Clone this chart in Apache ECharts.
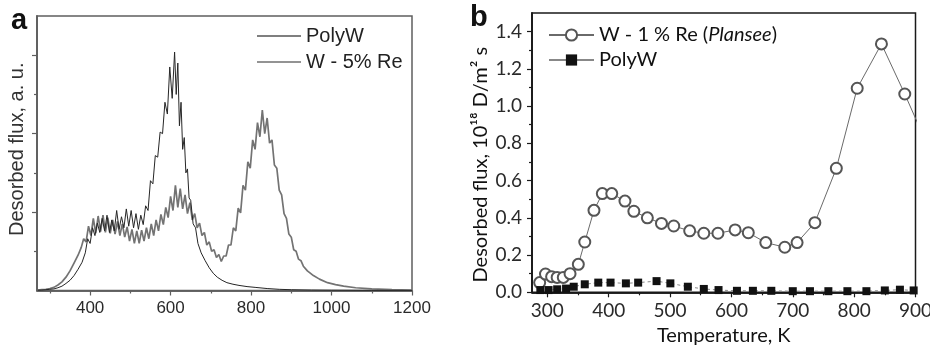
<!DOCTYPE html>
<html>
<head>
<meta charset="utf-8">
<script src="https://cdn.jsdelivr.net/npm/echarts@6/dist/echarts.min.js"></script>
<style>
html,body{margin:0;padding:0;background:#fff;}
#chart{width:930px;height:345px;}
</style>
</head>
<body>
<div id="chart"></div>
<script>
// ---------- Panel a: TDS spectra (a.u.) ----------
var polyWa = [
 [270,0.003],[280,0.005],[290,0.01],[300,0.015],[310,0.02],[320,0.035],[330,0.055],[340,0.09],[350,0.13],[360,0.19],[370,0.27],[380,0.36],[388,0.48],
 [394,0.66],[400,0.60],[406,0.80],[412,0.70],[418,0.86],[424,0.74],[430,0.92],[436,0.76],[442,0.96],[448,0.74],[454,0.90],[460,0.76],
 [466,1.02],[472,0.78],[478,0.94],[484,0.80],[490,1.04],[496,0.82],[502,1.02],[508,0.80],[514,0.98],[520,0.78],[526,0.96],[532,0.84],
 [538,1.08],[544,1.02],[550,1.40],[556,1.36],[562,1.72],[568,1.70],[574,2.02],[580,2.00],[586,2.40],[592,2.25],[598,2.85],[604,2.45],
 [610,3.04],[614,2.50],[618,2.90],[622,2.10],[626,2.40],[630,1.80],[634,1.95],[638,1.50],[642,1.55],[646,1.18],[650,1.15],[656,0.85],
 [662,0.80],[668,0.60],[676,0.48],[686,0.38],[696,0.29],[706,0.22],[716,0.17],[728,0.13],[740,0.10],[755,0.08],[770,0.065],[790,0.05],
 [810,0.04],[840,0.025],[870,0.015],[900,0.01],[950,0.006],[1000,0.004],[1100,0.002],[1200,0.001]
];
var wRe5a = [
 [270,0.005],[280,0.01],[290,0.015],[300,0.025],[310,0.04],[320,0.07],[330,0.11],[340,0.17],[350,0.25],[360,0.35],[370,0.45],[378,0.55],
 [384,0.66],[390,0.62],[396,0.82],[402,0.70],[408,0.92],[414,0.73],[420,0.95],[426,0.75],[432,0.96],[438,0.74],[444,0.93],[450,0.73],
 [456,0.90],[462,0.72],[468,0.88],[474,0.70],[480,0.85],[486,0.68],[492,0.81],[498,0.63],[504,0.78],[510,0.60],[516,0.76],[522,0.60],
 [528,0.77],[534,0.63],[540,0.80],[546,0.66],[552,0.85],[558,0.70],[564,0.90],[570,0.76],[576,0.97],[582,0.84],[588,1.06],[594,0.93],
 [600,1.20],[606,1.02],[612,1.34],[618,1.06],[624,1.30],[630,1.04],[636,1.22],[642,0.98],[648,1.12],[654,0.90],[660,0.98],[666,0.80],
 [672,0.86],[678,0.70],[684,0.74],[690,0.58],[696,0.62],[702,0.50],[708,0.52],[714,0.42],[720,0.46],[726,0.37],[732,0.44],[738,0.44],
 [744,0.58],[750,0.58],[756,0.80],[762,0.76],[768,1.05],[774,0.99],[780,1.34],[786,1.28],[792,1.64],[798,1.56],[804,1.92],[810,1.80],
 [816,2.14],[822,1.96],[828,2.30],[834,2.00],[840,2.20],[846,1.88],[852,1.92],[858,1.60],[864,1.56],[870,1.28],[876,1.22],[882,0.98],
 [888,0.92],[894,0.72],[900,0.68],[906,0.52],[912,0.50],[918,0.40],[924,0.38],[930,0.31],[940,0.25],[955,0.19],[970,0.145],[990,0.10],
 [1010,0.075],[1030,0.055],[1060,0.035],[1100,0.02],[1150,0.01],[1200,0.005]
];
var xMajorA = [400,600,800,1000,1200];
var xMinorA = [300,500,700,900,1100];
var yMajorA = [1,2,3];
var yMinorA = [0.5,1.5,2.5];

// ---------- Panel b: desorbed flux, 10^18 D/m^2 s ----------
var wRe1b = [
 [287.5,0.052],[297,0.098],[307,0.084],[316,0.08],[326,0.08],[337,0.10],[350.5,0.15],[361,0.27],[376,0.44],[389.6,0.53],[405,0.53],
 [426.5,0.49],[441,0.435],[463,0.40],[486,0.37],[506,0.356],[532,0.33],[555,0.317],[578,0.317],[606,0.335],[627.5,0.32],[656,0.267],
 [687,0.242],[707,0.267],[736,0.374],[771,0.666],[805,1.096],[844.5,1.334],[882.5,1.065],[918,0.80]
];
var polyWb = [
 [288.6,0.012],[302,0.012],[316,0.016],[330.5,0.02],[343,0.03],[361,0.043],[383,0.052],[403,0.052],[428,0.048],[448,0.052],[478,0.06],
 [500.5,0.048],[529,0.03],[555,0.018],[579,0.012],[609,0.008],[635,0.008],[665,0.008],[700,0.006],[728,0.006],[758,0.006],[789,0.006],
 [820,0.006],[850,0.01],[874.6,0.014],[897,0.01]
];
var xMajorB = [300,400,500,600,700,800,900];
var xMinorB = [350,450,550,650,750,850];
var yMajorB = [0,0.2,0.4,0.6,0.8,1.0,1.2,1.4];
var yMinorB = [0.1,0.3,0.5,0.7,0.9,1.1,1.3];

var FA = 'Liberation Sans';
var FB = 'Lato';
var grayA = '#5f5f5f';
var blackB = '#1a1a1a';

var chart = echarts.init(document.getElementById('chart'), null, {renderer:'canvas'});

function xAx(grid, min, max, ticks, len, labels, color, font, fsize, extra) {
  var o = {
    type:'value', gridIndex:grid, min:min, max:max, position:'bottom',
    axisLine:{show:true, onZero:false, lineStyle:{color:color, width:1.5}},
    axisTick:{show:true, inside:false, length:len, customValues:ticks, lineStyle:{color:color, width:1.2}},
    axisLabel:labels ? {show:true, customValues:labels, fontFamily:font, fontSize:fsize, color:'#2a2a2a', margin:9,
      formatter:function(v){return String(v);}} : {show:false},
    splitLine:{show:false}
  };
  for (var k in extra) o[k] = extra[k];
  return o;
}
function yAx(grid, min, max, ticks, len, labels, color, font, fsize, extra) {
  var o = {
    type:'value', gridIndex:grid, min:min, max:max, position:'left',
    axisLine:{show:true, onZero:false, lineStyle:{color:color, width:1.5}},
    axisTick:{show:true, inside:false, length:len, customValues:ticks, lineStyle:{color:color, width:1.2}},
    axisLabel:labels ? {show:true, customValues:labels, fontFamily:font, fontSize:fsize, color:'#2a2a2a', margin:10,
      formatter:function(v){return v.toFixed(1);}} : {show:false},
    splitLine:{show:false}
  };
  for (var k in extra) o[k] = extra[k];
  return o;
}

chart.setOption({
  animation:false,
  backgroundColor:'#fff',
  graphic:[
    {type:'text', left:11, top:6, style:{text:'a', font:'bold 29px "Liberation Sans"', fill:'#111'}},
    {type:'text', left:470, top:3, style:{text:'b', font:'bold 29px "Liberation Sans"', fill:'#111'}}
  ],
  grid:[
    {left:37, top:16, width:375, height:274.5, show:true, borderColor:grayA, borderWidth:1.5, backgroundColor:'transparent',
     outerBoundsMode:'none', containLabel:false},
    {left:532, top:13, width:383.5, height:279.3, show:true, borderColor:blackB, borderWidth:1.5, backgroundColor:'transparent',
     outerBoundsMode:'none', containLabel:false}
  ],
  legend:[
    {data:[{name:'PolyW', itemStyle:{color:'#555'}}, {name:'W - 5% Re', itemStyle:{color:'#6f6f6f'}}],
     orient:'vertical', left:252, top:21, icon:'rect', itemWidth:44, itemHeight:1.3, itemGap:6,
     textStyle:{fontFamily:FA, fontSize:20, color:'#222'}},
    {data:['W1Re', {name:'PolyWb', lineStyle:{type:'solid'}}], orient:'vertical', left:543, top:20, itemWidth:45, itemHeight:14, itemGap:5,
     formatter:function(n){return n==='W1Re' ? '{t|W - 1 % Re (}{i|Plansee}{t|)}' : '{t|PolyW}';},
     textStyle:{fontFamily:FB, fontSize:20, color:'#111',
       rich:{t:{fontFamily:FB, fontSize:20, color:'#111'}, i:{fontFamily:FB, fontSize:20, fontStyle:'italic', color:'#111'}}}}
  ],
  xAxis:[
    xAx(0, 268, 1200, xMajorA, 5, xMajorA, grayA, FA, 17, {}),
    xAx(0, 268, 1200, xMinorA, 3, null, grayA, FA, 17, {}),
    xAx(1, 275, 900, xMajorB, 5, xMajorB, blackB, FB, 19, {
      name:'Temperature, K', nameLocation:'middle', nameGap:33,
      nameTextStyle:{fontFamily:FB, fontSize:20, color:'#111'}}),
    xAx(1, 275, 900, xMinorB, 3, null, blackB, FB, 19, {})
  ],
  yAxis:[
    yAx(0, 0, 3.5, yMajorA, 5, null, grayA, FA, 17, {
      name:'Desorbed flux, a. u.', nameLocation:'middle', nameGap:10,
      nameTextStyle:{fontFamily:FA, fontSize:20, color:'#333', padding:[0,0,0,8]}}),
    yAx(0, 0, 3.5, yMinorA, 3, null, grayA, FA, 17, {}),
    yAx(1, 0, 1.5, yMajorB, 5, yMajorB, blackB, FB, 19, {
      name:'Desorbed flux, 10\u00B9\u2078 D/m\u00B2 s', nameLocation:'middle', nameGap:41,
      nameTextStyle:{fontFamily:FB, fontSize:20, color:'#111', padding:[0,24,0,0]}}),
    yAx(1, 0, 1.5, yMinorB, 3, null, blackB, FB, 19, {})
  ],
  series:[
    {name:'PolyW', type:'line', xAxisIndex:0, yAxisIndex:0, data:polyWa, symbol:'none', showSymbol:false,
     lineStyle:{color:'#262626', width:1}, itemStyle:{color:'#262626'}, z:3},
    {name:'W - 5% Re', type:'line', xAxisIndex:0, yAxisIndex:0, data:wRe5a, symbol:'none', showSymbol:false,
     lineStyle:{color:'#737373', width:1.7}, itemStyle:{color:'#737373'}, z:2},
    {name:'W1Re', type:'line', xAxisIndex:2, yAxisIndex:2, data:wRe1b, symbol:'circle', symbolSize:11, clip:true,
     lineStyle:{color:'#6a6a6a', width:1}, itemStyle:{color:'#fff', borderColor:'#555', borderWidth:2}, z:3},
    {name:'PolyWb', type:'line', xAxisIndex:2, yAxisIndex:2, data:polyWb, symbol:'rect', symbolSize:8, clip:true,
     lineStyle:{color:'#888', width:1, type:[3,3]}, itemStyle:{color:'#111'}, z:4}
  ]
});
</script>
</body>
</html>
